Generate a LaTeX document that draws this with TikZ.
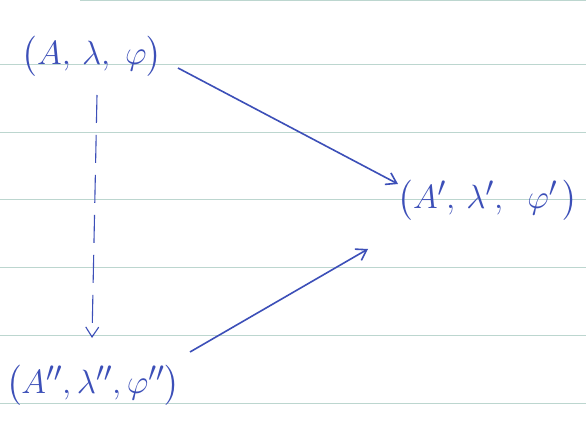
\documentclass[tikz,border=0pt]{standalone}
\usepackage{amsmath}
\usepackage{graphicx}
\usetikzlibrary{arrows.meta}
\definecolor{ink}{HTML}{3C4FB8}
\definecolor{rule}{HTML}{BCD6CF}
\newcommand{\bigtxt}[1]{\scalebox{1.35}{\fontsize{30}{36}\selectfont$#1$}}
\begin{document}
\begin{tikzpicture}[x=1pt,y=-1pt,
  lbl/.style={text=ink,inner sep=2pt},
  conn/.style={draw=ink,line width=1.6pt,-{Straight Barb[length=10pt,width=13pt]}}]
\useasboundingbox (0,0) rectangle (586,438);
\fill[white] (0,0) rectangle (586,438);
\foreach \yy in {65,133,200,268,335,403} \draw[rule,line width=1pt] (0,\yy) -- (586,\yy);
\draw[rule,line width=1pt] (80,1) -- (586,1);
\node[lbl] (a) at (92,56) {\bigtxt{\bigl(A,\,\lambda,\;\varphi\bigr)}};
\node[lbl] (b) at (488,200) {\bigtxt{\bigl(A',\,\lambda',\;\;\varphi'\,\bigr)}};
\node[lbl] (c) at (93,385) {\bigtxt{\bigl(A'',\lambda'',\varphi''\bigr)}};
\coordinate (a1) at (178,68);
\coordinate (b1) at (398,184);
\coordinate (c1) at (190,352);
\coordinate (b2) at (368,249);
\coordinate (a2) at (97,95);
\coordinate (c2) at (92,338);
\draw[conn] (a1) -- (b1);
\draw[conn] (c1) -- (b2);
\draw[conn,line width=1.1pt,dash pattern=on 28pt off 12pt] (a2) -- (c2);
\end{tikzpicture}
\end{document}
